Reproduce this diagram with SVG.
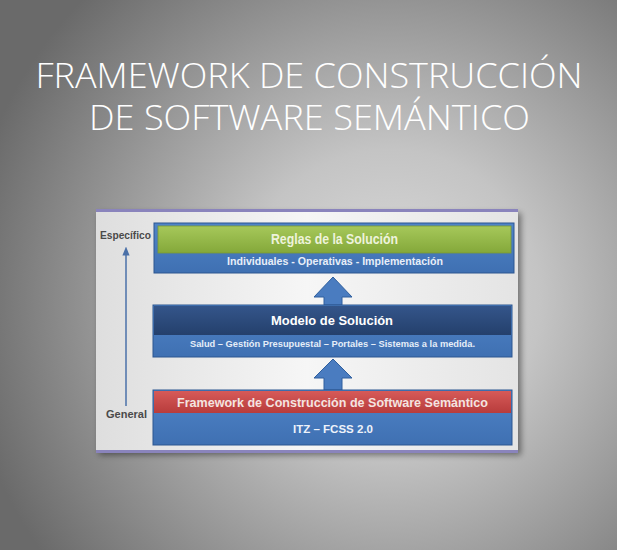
<svg xmlns="http://www.w3.org/2000/svg" width="617" height="550" viewBox="0 0 617 550">
<defs>
<radialGradient id="bg" cx="390" cy="300" r="430" gradientUnits="userSpaceOnUse">
<stop offset="0" stop-color="#dcdcdc"/>
<stop offset="0.35" stop-color="#c4c4c4"/>
<stop offset="1" stop-color="#6a6a6a"/>
</radialGradient>
<linearGradient id="panel" x1="0" y1="0" x2="1" y2="0">
<stop offset="0" stop-color="#dedede"/>
<stop offset="0.5" stop-color="#f6f6f6"/>
<stop offset="1" stop-color="#e4e4e4"/>
</linearGradient>
<linearGradient id="green" x1="0" y1="0" x2="0" y2="1">
<stop offset="0" stop-color="#a6c85a"/>
<stop offset="1" stop-color="#84a83a"/>
</linearGradient>
<linearGradient id="navy" x1="0" y1="0" x2="0" y2="1">
<stop offset="0" stop-color="#34558a"/>
<stop offset="1" stop-color="#24406c"/>
</linearGradient>
<linearGradient id="red" x1="0" y1="0" x2="0" y2="1">
<stop offset="0" stop-color="#d65a58"/>
<stop offset="1" stop-color="#b83c3c"/>
</linearGradient>
<linearGradient id="blue" x1="0" y1="0" x2="0" y2="1">
<stop offset="0" stop-color="#4f84c8"/>
<stop offset="1" stop-color="#3f70b2"/>
</linearGradient>
<filter id="sh" x="-10%" y="-10%" width="125%" height="125%">
<feGaussianBlur in="SourceAlpha" stdDeviation="3"/>
<feOffset dx="3" dy="3"/>
<feComponentTransfer><feFuncA type="linear" slope="0.45"/></feComponentTransfer>
<feMerge><feMergeNode/><feMergeNode in="SourceGraphic"/></feMerge>
</filter>
<marker id="ah" viewBox="0 0 10 10" refX="5" refY="5" markerWidth="6" markerHeight="6" orient="auto">
<path d="M0,1 L10,5 L0,9 z" fill="#4a70a8"/>
</marker>
<style>
.title{font-family:"Open Sans","Liberation Sans",sans-serif;font-weight:300;font-size:34px;fill:#ffffff;text-anchor:middle}
.t{font-family:"Liberation Sans","Open Sans",sans-serif;text-anchor:middle;font-weight:bold}
.side{font-family:"Liberation Sans",sans-serif;font-size:10px;fill:#4a4a4a;font-weight:bold}
.box{stroke:#2c5690;stroke-width:1}
.arrow{fill:#4a7cc0;stroke:#2f5f9e;stroke-width:1}
</style>
</defs>
<rect x="0" y="0" width="617" height="550" fill="url(#bg)"/>
<text class="title" x="309" y="88" textLength="547" lengthAdjust="spacingAndGlyphs">FRAMEWORK DE CONSTRUCCIÓN</text>
<text class="title" x="309.5" y="130" textLength="441" lengthAdjust="spacingAndGlyphs">DE SOFTWARE SEMÁNTICO</text>

<g id="panel">
<rect x="96" y="210" width="422" height="242" fill="url(#panel)" filter="url(#sh)"/>
<rect x="96" y="209" width="422" height="3" fill="#8a84bc"/>
<rect x="96" y="450" width="422" height="3" fill="#8a84bc"/>
</g>

<g id="axis">
<line x1="126" y1="406" x2="126" y2="251" stroke="#4a70a8" stroke-width="1.5" marker-end="url(#ah)"/>
<text class="side" x="125.5" y="239" text-anchor="middle" textLength="51" lengthAdjust="spacingAndGlyphs">Específico</text>
<text class="side" x="126.5" y="418" text-anchor="middle" textLength="41" lengthAdjust="spacingAndGlyphs">General</text>
</g>

<g id="connectors">
<polygon class="arrow" points="333,277 352,297 342,297 342,305 324,305 324,297 314,297"/>
<polygon class="arrow" points="333,359 352,378 342,378 342,390 324,390 324,378 314,378"/>
</g>

<g id="reglas">
<rect class="box" x="154" y="223" width="360" height="50" fill="url(#blue)"/>
<rect x="158" y="226" width="353" height="27" fill="url(#green)" stroke="#7a9a36" stroke-width="0.8"/>
<text class="t" x="334.5" y="244" font-size="14" fill="#eef3dc" textLength="127" lengthAdjust="spacingAndGlyphs">Reglas de la Solución</text>
<text class="t" x="335" y="265" font-size="10.5" fill="#e8eef8" textLength="216" lengthAdjust="spacingAndGlyphs">Individuales - Operativas - Implementación</text>
</g>

<g id="modelo">
<rect class="box" x="153" y="305" width="359" height="52" fill="url(#blue)"/>
<rect x="154" y="306" width="357" height="29" fill="url(#navy)"/>
<text class="t" x="332" y="325" font-size="13.5" fill="#ffffff" textLength="122" lengthAdjust="spacingAndGlyphs">Modelo de Solución</text>
<text class="t" x="332.5" y="347" font-size="9.5" fill="#e6eef8" font-weight="normal" textLength="285" lengthAdjust="spacingAndGlyphs">Salud – Gestión Presupuestal – Portales – Sistemas a la medida.</text>
</g>

<g id="framework">
<rect class="box" x="153" y="390" width="359" height="55" fill="url(#blue)"/>
<rect x="154" y="391" width="357" height="22" fill="url(#red)"/>
<text class="t" x="332.5" y="407" font-size="13" fill="#f4e4e0" textLength="311" lengthAdjust="spacingAndGlyphs">Framework de Construcción de Software Semántico</text>
<text class="t" x="333" y="433" font-size="11" fill="#eef2fa" textLength="80" lengthAdjust="spacingAndGlyphs">ITZ – FCSS 2.0</text>
</g>
</svg>
